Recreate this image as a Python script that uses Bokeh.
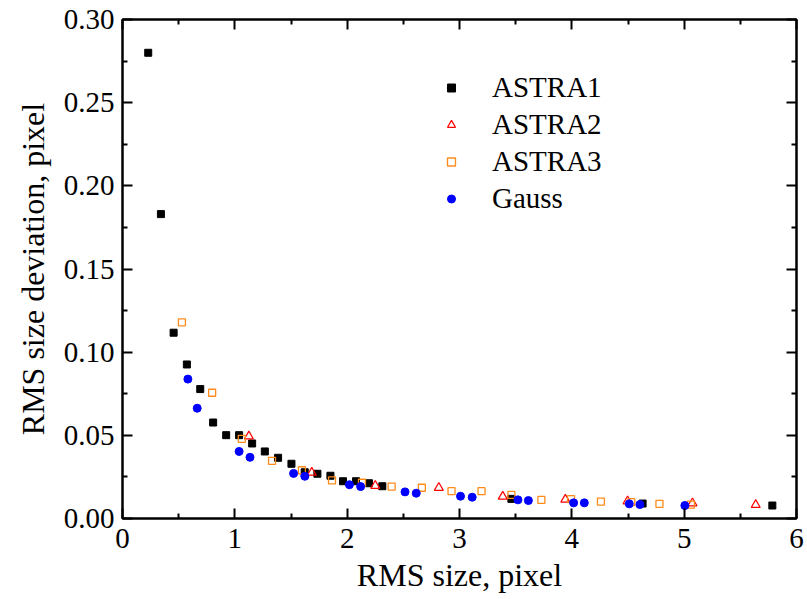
from bokeh.plotting import figure
from bokeh.models import (LinearAxis, Range1d, FixedTicker, PrintfTickFormatter,
                          Legend, LegendItem)
from bokeh.embed import file_html
from bokeh.resources import INLINE

# ---- data ----
astra1_x = [0.229, 0.342, 0.455, 0.573, 0.692, 0.807, 0.923, 1.038, 1.154, 1.267, 1.385,
            1.504, 1.622, 1.735, 1.851, 1.963, 2.079, 2.194, 2.313, 3.462, 4.630, 5.785]
astra1_y = [0.280, 0.183, 0.1117, 0.0926, 0.0778, 0.0577, 0.0501, 0.0501, 0.0451, 0.0403, 0.0365,
            0.0329, 0.0278, 0.0269, 0.0257, 0.0224, 0.0224, 0.0212, 0.0194, 0.0118, 0.0090, 0.0078]

astra2_x = [1.125, 1.685, 2.250, 2.816, 3.385, 3.942, 4.496, 5.074, 5.637]
astra2_y = [0.0494, 0.0276, 0.0197, 0.0185, 0.0132, 0.0114, 0.0104, 0.0092, 0.0082]

astra3_x = [0.529, 0.798, 1.062, 1.331, 1.597, 1.865, 2.132, 2.396, 2.665, 2.929, 3.196,
            3.462, 3.729, 3.993, 4.259, 4.529, 4.780, 5.060]
astra3_y = [0.1179, 0.0756, 0.0479, 0.0347, 0.0290, 0.0229, 0.0215, 0.0192, 0.0185, 0.0164, 0.0164,
            0.0142, 0.0112, 0.0116, 0.0102, 0.0098, 0.0088, 0.0084]

gauss_x = [0.582, 0.665, 1.038, 1.135, 1.523, 1.623, 2.020, 2.120, 2.515, 2.615, 3.009,
           3.113, 3.520, 3.613, 4.016, 4.111, 4.511, 4.606, 5.006]
gauss_y = [0.0838, 0.0663, 0.0403, 0.0368, 0.0271, 0.0254, 0.0203, 0.0192, 0.0160, 0.0152, 0.0134,
           0.0128, 0.0112, 0.0108, 0.0094, 0.0094, 0.0088, 0.0084, 0.0078]

series_names = ["ASTRA1", "ASTRA2", "ASTRA3", "Gauss"]
x_label = "RMS size, pixel"
y_label = "RMS size deviation, pixel"

x_ticks = [0, 1, 2, 3, 4, 5, 6]
x_minor = [0.5, 1.5, 2.5, 3.5, 4.5, 5.5]
y_ticks = [0.0, 0.05, 0.10, 0.15, 0.20, 0.25, 0.30]
y_minor = [0.025, 0.075, 0.125, 0.175, 0.225, 0.275]

FONT = "'Liberation Serif', 'Times New Roman', serif"

p = figure(frame_width=674, frame_height=499, output_backend="svg", toolbar_location=None,
           x_range=Range1d(0, 6), y_range=Range1d(0, 0.30),
           min_border_left=122, min_border_right=10, min_border_top=19, min_border_bottom=80,
           x_axis_label=x_label, y_axis_label=y_label)
p.grid.visible = False
p.outline_line_color = "black"
p.outline_line_width = 2
p.background_fill_color = "white"
p.border_fill_color = "white"

p.xaxis.ticker = FixedTicker(ticks=x_ticks, minor_ticks=x_minor)
p.yaxis.ticker = FixedTicker(ticks=y_ticks, minor_ticks=y_minor)
p.yaxis.formatter = PrintfTickFormatter(format="%.2f")

def style_axis(ax):
    ax.axis_line_width = 2
    ax.axis_line_color = "black"
    ax.major_tick_in = 10
    ax.major_tick_out = 0
    ax.minor_tick_in = 5
    ax.minor_tick_out = 0
    ax.major_tick_line_width = 2
    ax.minor_tick_line_width = 2
    ax.major_tick_line_color = "black"
    ax.minor_tick_line_color = "black"
    ax.major_label_text_font = FONT
    ax.major_label_text_font_size = "29px"
    ax.major_label_text_color = "black"
    ax.axis_label_text_font = FONT
    ax.axis_label_text_font_size = "32px"
    ax.axis_label_text_font_style = "normal"
    ax.axis_label_text_color = "black"

for ax in p.xaxis + p.yaxis:
    style_axis(ax)
p.xaxis.major_label_standoff = 10
p.yaxis.major_label_standoff = 8
p.xaxis.axis_label_standoff = 6
p.yaxis.axis_label_standoff = 10

top = LinearAxis(ticker=FixedTicker(ticks=x_ticks, minor_ticks=x_minor))
right = LinearAxis(ticker=FixedTicker(ticks=y_ticks, minor_ticks=y_minor))
for ax in (top, right):
    style_axis(ax)
    ax.major_label_text_color = None
    ax.major_label_text_font_size = "1px"
    ax.major_label_standoff = 0
p.add_layout(top, "above")
p.add_layout(right, "right")

r1 = p.scatter(astra1_x, astra1_y, marker="square", size=7, fill_color="black", line_color="black")
r2 = p.scatter(astra2_x, astra2_y, marker="triangle", size=9, fill_color=None, line_color="#ff0000", line_width=1.2)
r3 = p.scatter(astra3_x, astra3_y, marker="square", size=7, fill_color=None, line_color="#ff8c1a", line_width=1.3)
r4 = p.scatter(gauss_x, gauss_y, marker="circle", size=8, fill_color="#0000ff", line_color="#0000ff")

legend = Legend(items=[LegendItem(label=n, renderers=[r]) for n, r in zip(series_names, [r1, r2, r3, r4])],
                location=(319, 301))
legend.background_fill_alpha = 0
legend.border_line_color = None
legend.margin = 0
legend.padding = 0
legend.spacing = 0
legend.glyph_width = 20
legend.glyph_height = 37
legend.label_height = 37
legend.label_standoff = 31
legend.label_text_font = FONT
legend.label_text_font_size = "29px"
legend.label_text_color = "black"
p.add_layout(legend, "center")

open("out.html", "w").write(file_html(p, INLINE))
